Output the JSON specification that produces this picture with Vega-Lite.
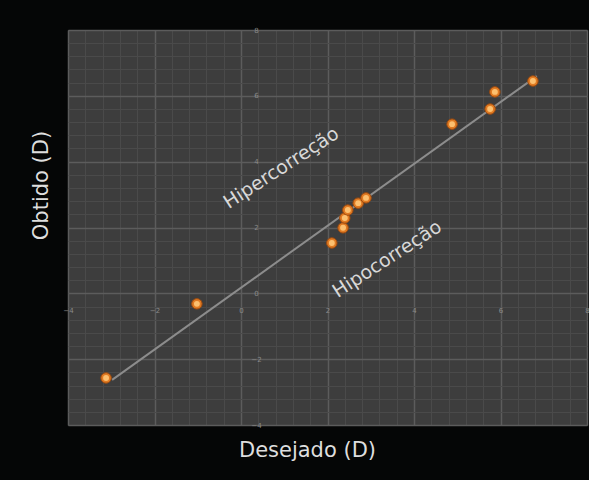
{
  "$schema": "https://vega.github.io/schema/vega-lite/v6.json",
  "width": 519,
  "height": 395,
  "autosize": "none",
  "padding": {"left": 68, "top": 30, "right": 2, "bottom": 55},
  "background": "#050606",
  "config": {"view": {"fill": "#3d3d3d", "stroke": null}},
  "datasets": {
    "pts": [
      {"desejado": -3.12, "obtido": -2.57},
      {"desejado": -1.02, "obtido": -0.32},
      {"desejado": 2.10, "obtido": 1.53},
      {"desejado": 2.36, "obtido": 1.99},
      {"desejado": 2.40, "obtido": 2.29},
      {"desejado": 2.47, "obtido": 2.53},
      {"desejado": 2.71, "obtido": 2.74},
      {"desejado": 2.89, "obtido": 2.90},
      {"desejado": 4.88, "obtido": 5.14},
      {"desejado": 5.76, "obtido": 5.60},
      {"desejado": 5.87, "obtido": 6.12},
      {"desejado": 6.75, "obtido": 6.45}
    ],
    "fit": [
      {"desejado": -2.98, "obtido": -2.63},
      {"desejado": 6.84, "obtido": 6.60}
    ],
    "labels": [
      {"desejado": 0.93, "obtido": 3.81, "texto": "Hipercorreção"},
      {"desejado": 3.38, "obtido": 1.04, "texto": "Hipocorreção"}
    ]
  },
  "layer": [
    {
      "data": {"name": "pts"},
      "mark": {"type": "point", "opacity": 0},
      "encoding": {
        "x": {"field": "desejado", "type": "quantitative",
          "scale": {"domain": [-4, 8], "nice": false, "zero": false},
          "axis": {"orient": "top", "grid": true, "gridColor": "#4a4a4a", "gridWidth": 1, "labels": false, "ticks": false, "domain": false, "title": null,
            "values": [-4,-3.6,-3.2,-2.8,-2.4,-2,-1.6,-1.2,-0.8,-0.4,0,0.4,0.8,1.2,1.6,2,2.4,2.8,3.2,3.6,4,4.4,4.8,5.2,5.6,6,6.4,6.8,7.2,7.6,8]}},
        "y": {"field": "obtido", "type": "quantitative",
          "scale": {"domain": [-4, 8], "nice": false, "zero": false},
          "axis": {"orient": "right", "grid": true, "gridColor": "#4a4a4a", "gridWidth": 1, "labels": false, "ticks": false, "domain": false, "title": null,
            "values": [-4,-3.6,-3.2,-2.8,-2.4,-2,-1.6,-1.2,-0.8,-0.4,0,0.4,0.8,1.2,1.6,2,2.4,2.8,3.2,3.6,4,4.4,4.8,5.2,5.6,6,6.4,6.8,7.2,7.6,8]}}
      }
    },
    {
      "data": {"name": "fit"},
      "mark": {"type": "line", "color": "#8c8c8c", "strokeWidth": 2},
      "encoding": {
        "x": {"field": "desejado", "type": "quantitative",
          "axis": {"orient": "bottom", "grid": true, "gridColor": "#5c5c5c", "gridWidth": 1.5, "domain": false, "ticks": false, "tickSize": 0, "offset": -115,
            "values": [-4, -2, 0, 2, 4, 6, 8], "labelFlush": false, "labelPadding": 0, "labelBaseline": "middle",
            "labelColor": "#8a8a8a", "labelFontSize": 7, "labelFont": "DejaVu Sans",
            "title": "Desejado (D)", "titleColor": "#dedede", "titleFont": "DejaVu Sans", "titleFontSize": 21, "titleFontWeight": "normal",
            "titleX": 239, "titleY": 140, "titleBaseline": "middle", "titleAlign": "center"}},
        "y": {"field": "obtido", "type": "quantitative",
          "axis": {"orient": "left", "grid": true, "gridColor": "#5c5c5c", "gridWidth": 1.5, "domain": false, "ticks": false, "tickSize": 0, "offset": -188,
            "values": [-4, -2, 0, 2, 4, 6, 8], "labelFlush": false, "labelPadding": 0, "labelAlign": "center",
            "labelColor": "#8a8a8a", "labelFontSize": 7, "labelFont": "DejaVu Sans",
            "title": "Obtido (D)", "titleColor": "#dedede", "titleFont": "DejaVu Sans", "titleFontSize": 21, "titleFontWeight": "normal",
            "titleX": -215, "titleY": 155, "titleBaseline": "middle", "titleAlign": "center", "titleAngle": 270}}
      }
    },
    {
      "data": {"name": "pts"},
      "mark": {"type": "circle", "size": 110, "color": "#e07a22", "opacity": 1, "stroke": "#9a4a10", "strokeWidth": 1},
      "encoding": {
        "x": {"field": "desejado", "type": "quantitative", "axis": null},
        "y": {"field": "obtido", "type": "quantitative", "axis": null}
      }
    },
    {
      "data": {"name": "pts"},
      "mark": {"type": "circle", "size": 35, "color": "#ffc878", "opacity": 0.9},
      "encoding": {
        "x": {"field": "desejado", "type": "quantitative", "axis": null},
        "y": {"field": "obtido", "type": "quantitative", "axis": null}
      }
    },
    {
      "data": {"name": "labels"},
      "mark": {"type": "text", "font": "DejaVu Sans", "fontSize": 19, "color": "#d8d8d8", "angle": -33, "align": "center", "baseline": "middle"},
      "encoding": {
        "x": {"field": "desejado", "type": "quantitative", "axis": null},
        "y": {"field": "obtido", "type": "quantitative", "axis": null},
        "text": {"field": "texto"}
      }
    }
  ],
  "resolve": {"axis": {"x": "independent", "y": "independent"}}
}
